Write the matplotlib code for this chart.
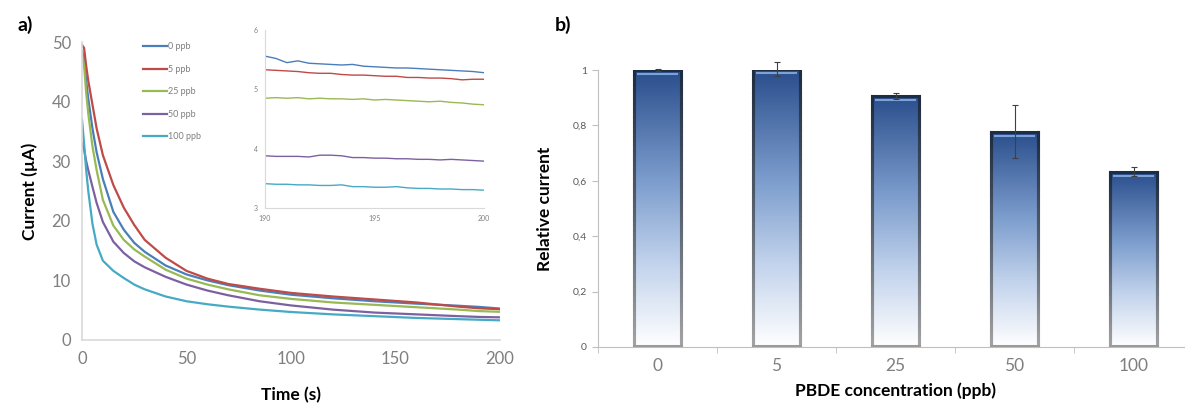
import numpy as np
import matplotlib
matplotlib.use("Agg")
import matplotlib.pyplot as plt
from matplotlib.colors import LinearSegmentedColormap
from matplotlib.collections import LineCollection

plt.rcParams['font.family'] = ['Lato', 'DejaVu Sans']

# ---- panel a) chronoamperometry curves ----
t = [0, 1, 2, 3, 5, 7, 10, 15, 20, 25, 30, 40, 50, 60, 70, 85, 100, 120, 140, 160, 180, 190, 200]
curves = {
    '0 ppb':   [48.5, 47.0, 43.5, 40.5, 35.5, 31.5, 27.0, 21.5, 18.5, 16.3, 14.8, 12.5, 11.0, 10.0, 9.2, 8.3, 7.6, 7.0, 6.5, 6.1, 5.75, 5.55, 5.28],
    '5 ppb':   [49.5, 49.0, 46.0, 43.5, 39.5, 35.5, 31.0, 26.0, 22.2, 19.3, 16.8, 13.8, 11.6, 10.3, 9.4, 8.6, 7.9, 7.3, 6.8, 6.3, 5.6, 5.32, 5.17],
    '25 ppb':  [48.0, 46.0, 41.5, 38.0, 32.5, 28.5, 23.5, 19.2, 16.8, 15.2, 14.0, 11.8, 10.3, 9.3, 8.5, 7.5, 6.9, 6.3, 5.9, 5.5, 5.1, 4.85, 4.73],
    '50 ppb':  [33.0, 32.0, 30.0, 28.5, 25.7, 23.0, 19.8, 16.5, 14.6, 13.2, 12.2, 10.6, 9.3, 8.3, 7.5, 6.5, 5.8, 5.1, 4.6, 4.3, 4.0, 3.87, 3.80],
    '100 ppb': [37.0, 33.0, 28.5, 25.0, 19.5, 16.0, 13.3, 11.6, 10.4, 9.3, 8.5, 7.3, 6.5, 6.0, 5.6, 5.1, 4.7, 4.3, 4.0, 3.7, 3.5, 3.4, 3.3],
}
colors = ['#4a7ebb', '#be4b48', '#98b954', '#7d60a0', '#46aac5']

# inset: zoom on the last 10 s
t_in = np.arange(190, 200.01, 0.5)
inset = {
    '0 ppb':   [5.56, 5.52, 5.45, 5.48, 5.44, 5.43, 5.42, 5.41, 5.42, 5.39, 5.38, 5.37, 5.36, 5.36, 5.35, 5.34, 5.33, 5.32, 5.31, 5.30, 5.28],
    '5 ppb':   [5.33, 5.32, 5.31, 5.30, 5.28, 5.27, 5.27, 5.25, 5.24, 5.24, 5.23, 5.22, 5.22, 5.20, 5.20, 5.19, 5.19, 5.18, 5.16, 5.17, 5.17],
    '25 ppb':  [4.85, 4.86, 4.85, 4.86, 4.84, 4.85, 4.84, 4.84, 4.83, 4.84, 4.82, 4.83, 4.82, 4.81, 4.80, 4.79, 4.80, 4.78, 4.77, 4.75, 4.74],
    '50 ppb':  [3.88, 3.87, 3.87, 3.87, 3.86, 3.89, 3.89, 3.88, 3.85, 3.85, 3.84, 3.84, 3.83, 3.83, 3.82, 3.82, 3.81, 3.82, 3.81, 3.80, 3.79],
    '100 ppb': [3.41, 3.40, 3.40, 3.39, 3.39, 3.38, 3.38, 3.39, 3.36, 3.36, 3.35, 3.35, 3.36, 3.34, 3.33, 3.33, 3.32, 3.32, 3.31, 3.31, 3.30],
}

# ---- panel b) relative current ----
conc = ['0', '5', '25', '50', '100']
rel = [1.0, 1.003, 0.907, 0.777, 0.633]
err = [0.005, 0.026, 0.01, 0.096, 0.016]

W, H = 1185, 407
fig = plt.figure(figsize=(W / 100, H / 100), dpi=100)

def box(l, r, top, bot):
    return [l / W, 1 - bot / H, (r - l) / W, (bot - top) / H]

grey = '#d9d9d9'
tcol = '#7f7f7f'

ax = fig.add_axes(box(82, 500, 42, 340))
for (name, y), c in zip(curves.items(), colors):
    ax.plot(t, y, color=c, lw=1.6, label=name)
ax.set_xlim(0, 200)
ax.set_ylim(0, 50)
ax.set_xticks([0, 50, 100, 150, 200])
ax.set_yticks([0, 10, 20, 30, 40, 50])
for s in ['top', 'right']:
    ax.spines[s].set_visible(False)
for s in ['left', 'bottom']:
    ax.spines[s].set_color(grey)
    ax.spines[s].set_linewidth(1.2)
ax.tick_params(length=0, labelsize=12, labelcolor=tcol, pad=8)
ax.set_xlabel('Time (s)', fontsize=12.5, fontweight='bold', labelpad=14)
ax.set_ylabel('Current (µA)', fontsize=12.5, fontweight='bold', labelpad=10)
ax.legend(loc='upper left', bbox_to_anchor=(135 / W, 1 - 34 / H), bbox_transform=fig.transFigure,
          frameon=False, fontsize=6.5, handlelength=2.6, handletextpad=0.1, labelspacing=1.5,
          labelcolor=tcol)

axi = fig.add_axes(box(265, 484, 30, 208))
for (name, y), c in zip(inset.items(), colors):
    axi.plot(t_in, y, color=c, lw=1.0)
axi.set_xlim(190, 200)
axi.set_ylim(3, 6)
axi.set_xticks([190, 195, 200])
axi.set_yticks([3, 4, 5, 6])
for s in ['top', 'right']:
    axi.spines[s].set_visible(False)
for s in ['left', 'bottom']:
    axi.spines[s].set_color(grey)
axi.tick_params(length=0, labelsize=5, labelcolor=tcol, pad=5)

fig.text(18 / W, 1 - 25 / H, 'a)', fontsize=14, fontweight='bold', va='center')

# bars with vertical gradient
axb = fig.add_axes(box(598, 1193, 70, 347))
cmap = LinearSegmentedColormap.from_list('bar', [(0, '#ffffff'), (0.3, '#c2d3ec'),
                                                (0.6, '#7c9dcd'), (1, '#2a4e8c')])
ecmap = LinearSegmentedColormap.from_list('edge', ['#a3a3a3', '#56606e', '#1f2d42'])
grad = np.linspace(0, 1, 256).reshape(-1, 1)
bw = 0.4
xs = np.arange(len(conc))
for x, h in zip(xs, rel):
    axb.imshow(grad, extent=[x - bw / 2, x + bw / 2, 0, h], aspect='auto', cmap=cmap,
               origin='lower', zorder=2)
    # side edges fading from grey (bottom) to dark (top)
    yy = np.linspace(0, h, 60)
    for xe in (x - bw / 2, x + bw / 2):
        segs = [[(xe, yy[i]), (xe, yy[i + 1])] for i in range(len(yy) - 1)]
        lc = LineCollection(segs, colors=ecmap(np.linspace(0, 1, len(segs))), lw=2.2,
                            capstyle='projecting', zorder=3)
        axb.add_collection(lc)
    axb.plot([x - bw / 2, x + bw / 2], [h, h], color='#1f2d42', lw=2.2, zorder=3,
             solid_capstyle='projecting')
    axb.plot([x - bw / 2, x + bw / 2], [0.004, 0.004], color='#9a9a9a', lw=2.2, zorder=3,
             solid_capstyle='projecting')
    axb.plot([x - bw / 2 + 0.03, x + bw / 2 - 0.03], [h - 0.015, h - 0.015], color='#7fa2d6',
             lw=1.5, zorder=3, solid_capstyle='butt')
axb.errorbar(xs, rel, yerr=err, fmt='none', ecolor='#404040', elinewidth=0.8, capsize=2.5,
             capthick=0.8, zorder=4, clip_on=False)
axb.set_xlim(-0.5, 4.5)
axb.set_ylim(0, 1)
axb.set_xticks(xs)
axb.set_xticklabels(conc)
axb.set_xticks(np.arange(-0.5, 4.6, 1), minor=True)
axb.set_yticks([0, 0.2, 0.4, 0.6, 0.8, 1])
axb.set_yticklabels(['0', '0,2', '0,4', '0,6', '0,8', '1'])
for s in ['top', 'right']:
    axb.spines[s].set_visible(False)
for s in ['left', 'bottom']:
    axb.spines[s].set_color('#bfbfbf')
axb.tick_params(axis='x', which='major', length=0, labelsize=12.5, labelcolor=tcol, pad=8)
axb.tick_params(axis='x', which='minor', length=4, color='#bfbfbf')
axb.tick_params(axis='y', length=4, color='#bfbfbf', labelsize=7.5, labelcolor='#595959', pad=4)
axb.set_xlabel('PBDE concentration (ppb)', fontsize=12.5, fontweight='bold', labelpad=6)
axb.set_ylabel('Relative current', fontsize=12.5, fontweight='bold', labelpad=14)

fig.text(555 / W, 1 - 25 / H, 'b)', fontsize=14, fontweight='bold', va='center')

fig.savefig('out.png', dpi=100)
